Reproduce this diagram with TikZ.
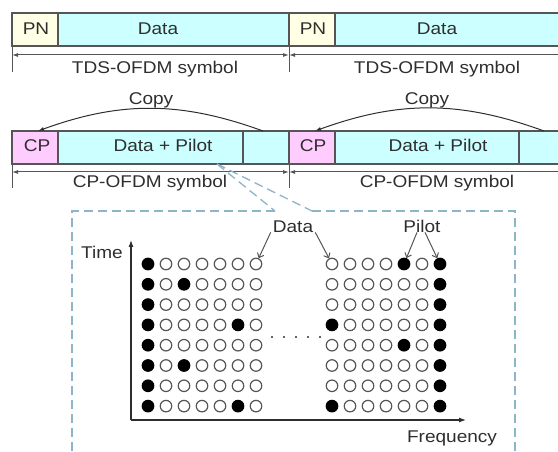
\documentclass[tikz,border=0pt]{standalone}
\usepackage{fontspec}
\setmainfont{Liberation Sans}[FakeStretch=1.12]
\usetikzlibrary{arrows.meta,calc}
\definecolor{pnfill}{HTML}{FFFFE6}
\definecolor{cyanfill}{HTML}{CCFFFF}
\definecolor{cpfill}{HTML}{FFCCFF}
\definecolor{edgegray}{HTML}{555555}
\definecolor{ink}{HTML}{2E2E2E}
\definecolor{zoomblue}{HTML}{8FB4C9}
\def\patternleft{{1,0,0,0,0,0,0, 1,0,1,0,0,0,0, 1,0,0,0,0,0,0, 1,0,0,0,0,1,0, 1,0,0,0,0,0,0, 1,0,1,0,0,0,0, 1,0,0,0,0,0,0, 1,0,0,0,0,1,0}}
\def\patternright{{0,0,0,0,1,0,1, 0,0,0,0,0,0,1, 0,0,0,0,0,0,1, 1,0,0,0,0,0,1, 0,0,0,0,1,0,1, 0,0,0,0,0,0,1, 0,0,0,0,0,0,1, 1,0,0,0,0,0,1}}
\begin{document}
\begin{tikzpicture}[x=1bp,y=-1bp,
  font=\fontsize{17bp}{20bp}\selectfont,
  seg/.style={draw=edgegray, line width=1.1bp, inner sep=0pt, outer sep=0pt, anchor=north west, minimum height=33bp},
  txt/.style={text=ink, anchor=base, inner sep=2bp},
  dimline/.style={draw=edgegray, line width=1bp},
  dimboth/.style={dimline, {Latex[length=6bp,width=4bp]}-{Latex[length=6bp,width=4bp]}},
  dimleft/.style={dimline, {Latex[length=6bp,width=4bp]}-},
  copyarrow/.style={draw=ink, line width=1bp, -{Latex[length=6bp,width=4bp]}},
  zoomline/.style={draw=zoomblue, line width=1.3bp, dash pattern=on 9bp off 5bp},
  axisline/.style={draw=ink, line width=1.1bp, -{Latex[length=7bp,width=5bp]}},
  ptr/.style={draw=edgegray, line width=1bp, -{Straight Barb[length=4bp,width=7bp]}},
  datadot/.style={circle, draw=edgegray, line width=1.2bp, fill=white, minimum size=11.5bp, inner sep=0pt},
  pilotdot/.style={circle, draw=black, line width=1.2bp, fill=black, minimum size=11.5bp, inner sep=0pt}
]
\useasboundingbox (0,0) rectangle (558,452);
\clip (0,0) rectangle (558,452);

% ---- TDS-OFDM row ----
\node[seg, fill=pnfill, minimum width=46bp] (pn1) at (12,13) {};
\node[seg, fill=cyanfill, minimum width=231bp] (data1) at (58,13) {};
\node[seg, fill=pnfill, minimum width=46bp] (pn2) at (289,13) {};
\node[seg, fill=cyanfill, minimum width=240bp] (data2) at (335,13) {};
\node[txt] (pn1t) at (36,35) {PN};
\node[txt] (data1t) at (158,35) {Data};
\node[txt] (pn2t) at (313,35) {PN};
\node[txt] (data2t) at (437,35) {Data};

\coordinate (tds1) at (12,72);
\coordinate (tds2) at (289,72);
\coordinate (tdsa) at (12,55);
\coordinate (tdsb) at (289,55);
\coordinate (tdsc) at (575,55);
\draw[dimline] (pn1.south west) -- (tds1);
\draw[dimline] (pn2.south west) -- (tds2);
\draw[dimboth] (tdsa) -- (tdsb);
\draw[dimleft] (tdsb) -- (tdsc);
\node[txt] (tdsl1) at (155,74) {TDS-OFDM symbol};
\node[txt] (tdsl2) at (437,74) {TDS-OFDM symbol};

% ---- CP-OFDM row ----
\node[seg, fill=cpfill, minimum width=46bp] (cp1) at (12,131) {};
\node[seg, fill=cyanfill, minimum width=185bp] (dp1) at (58,131) {};
\node[seg, fill=cyanfill, minimum width=46bp] (tail1) at (243,131) {};
\node[seg, fill=cpfill, minimum width=46bp] (cp2) at (289,131) {};
\node[seg, fill=cyanfill, minimum width=184bp] (dp2) at (335,131) {};
\node[seg, fill=cyanfill, minimum width=56bp] (tail2) at (519,131) {};
\node[txt] (cp1t) at (37,152) {CP};
\node[txt] (dp1t) at (163,152) {Data + Pilot};
\node[txt] (cp2t) at (313,152) {CP};
\node[txt] (dp2t) at (438,152) {Data + Pilot};

\node[txt] (copy1) at (151,105) {Copy};
\node[txt] (copy2) at (427,105) {Copy};
\draw[copyarrow] ([xshift=-3bp]tail1.north) to[bend right=20] ([xshift=3bp]cp1.north);
\draw[copyarrow] ([xshift=-3bp]tail2.north) to[bend right=20] ([xshift=3bp]cp2.north);

\coordinate (cpo1) at (12,188);
\coordinate (cpo2) at (289,188);
\coordinate (cpoa) at (12,172);
\coordinate (cpob) at (289,172);
\coordinate (cpoc) at (575,172);
\draw[dimline] (cp1.south west) -- (cpo1);
\draw[dimline] (cp2.south west) -- (cpo2);
\draw[dimboth] (cpoa) -- (cpob);
\draw[dimleft] (cpob) -- (cpoc);
\node[txt] (cpol1) at (150,188) {CP-OFDM symbol};
\node[txt] (cpol2) at (437,188) {CP-OFDM symbol};

% ---- zoom call-out ----
\coordinate (zsrc) at (217,164);
\coordinate (zl) at (275,211);
\coordinate (zr) at (312,211);
\coordinate (ztl) at (72,211);
\coordinate (ztr) at (515,211);
\coordinate (zbl) at (72,460);
\coordinate (zbr) at (515,460);
\draw[zoomline] (zsrc) -- (zl);
\draw[zoomline] (zsrc) -- (zr);
\draw[zoomline] (zl) -- (ztl) -- (zbl);
\draw[zoomline] (zr) -- (ztr) -- (zbr);

% ---- axes ----
\coordinate (origin) at (131,420);
\coordinate (tend) at (131,240);
\coordinate (fend) at (466,420);
\draw[axisline] (origin) -- (tend);
\draw[axisline] (origin) -- (fend);
\node[txt] (timel) at (102,259) {Time};
\node[txt] (freql) at (452,442) {Frequency};

% ---- sub-carrier grid ----
\foreach \j in {0,...,7}{
  \foreach \i in {0,...,6}{
    \pgfmathtruncatemacro\vl{\patternleft[7*\j+\i]}
    \ifnum\vl=1 \def\dotsty{pilotdot}\else\def\dotsty{datadot}\fi
    \node[\dotsty] (L-\i-\j) at ({148+18*\i},{264+20.3*\j}) {};
    \pgfmathtruncatemacro\vr{\patternright[7*\j+\i]}
    \ifnum\vr=1 \def\dotstyr{pilotdot}\else\def\dotstyr{datadot}\fi
    \node[\dotstyr] (R-\i-\j) at ({332+18*\i},{264+20.3*\j}) {};
  }
}
\foreach \k in {0,...,4}{
  \fill[ink] ({272+12*\k},337) circle (1.1bp);
}

% ---- labels with pointers ----
\node[txt] (datal) at (293,233) {Data};
\node[txt] (pilotl) at (422,233) {Pilot};
\draw[ptr] ([yshift=3bp]datal.south west) -- (L-6-0);
\draw[ptr] ([yshift=3bp]datal.south east) -- (R-0-0);
\draw[ptr] ([xshift=-5bp,yshift=3bp]pilotl.south) -- (R-4-0);
\draw[ptr] ([xshift=3bp,yshift=3bp]pilotl.south) -- (R-6-0);
\end{tikzpicture}
\end{document}
